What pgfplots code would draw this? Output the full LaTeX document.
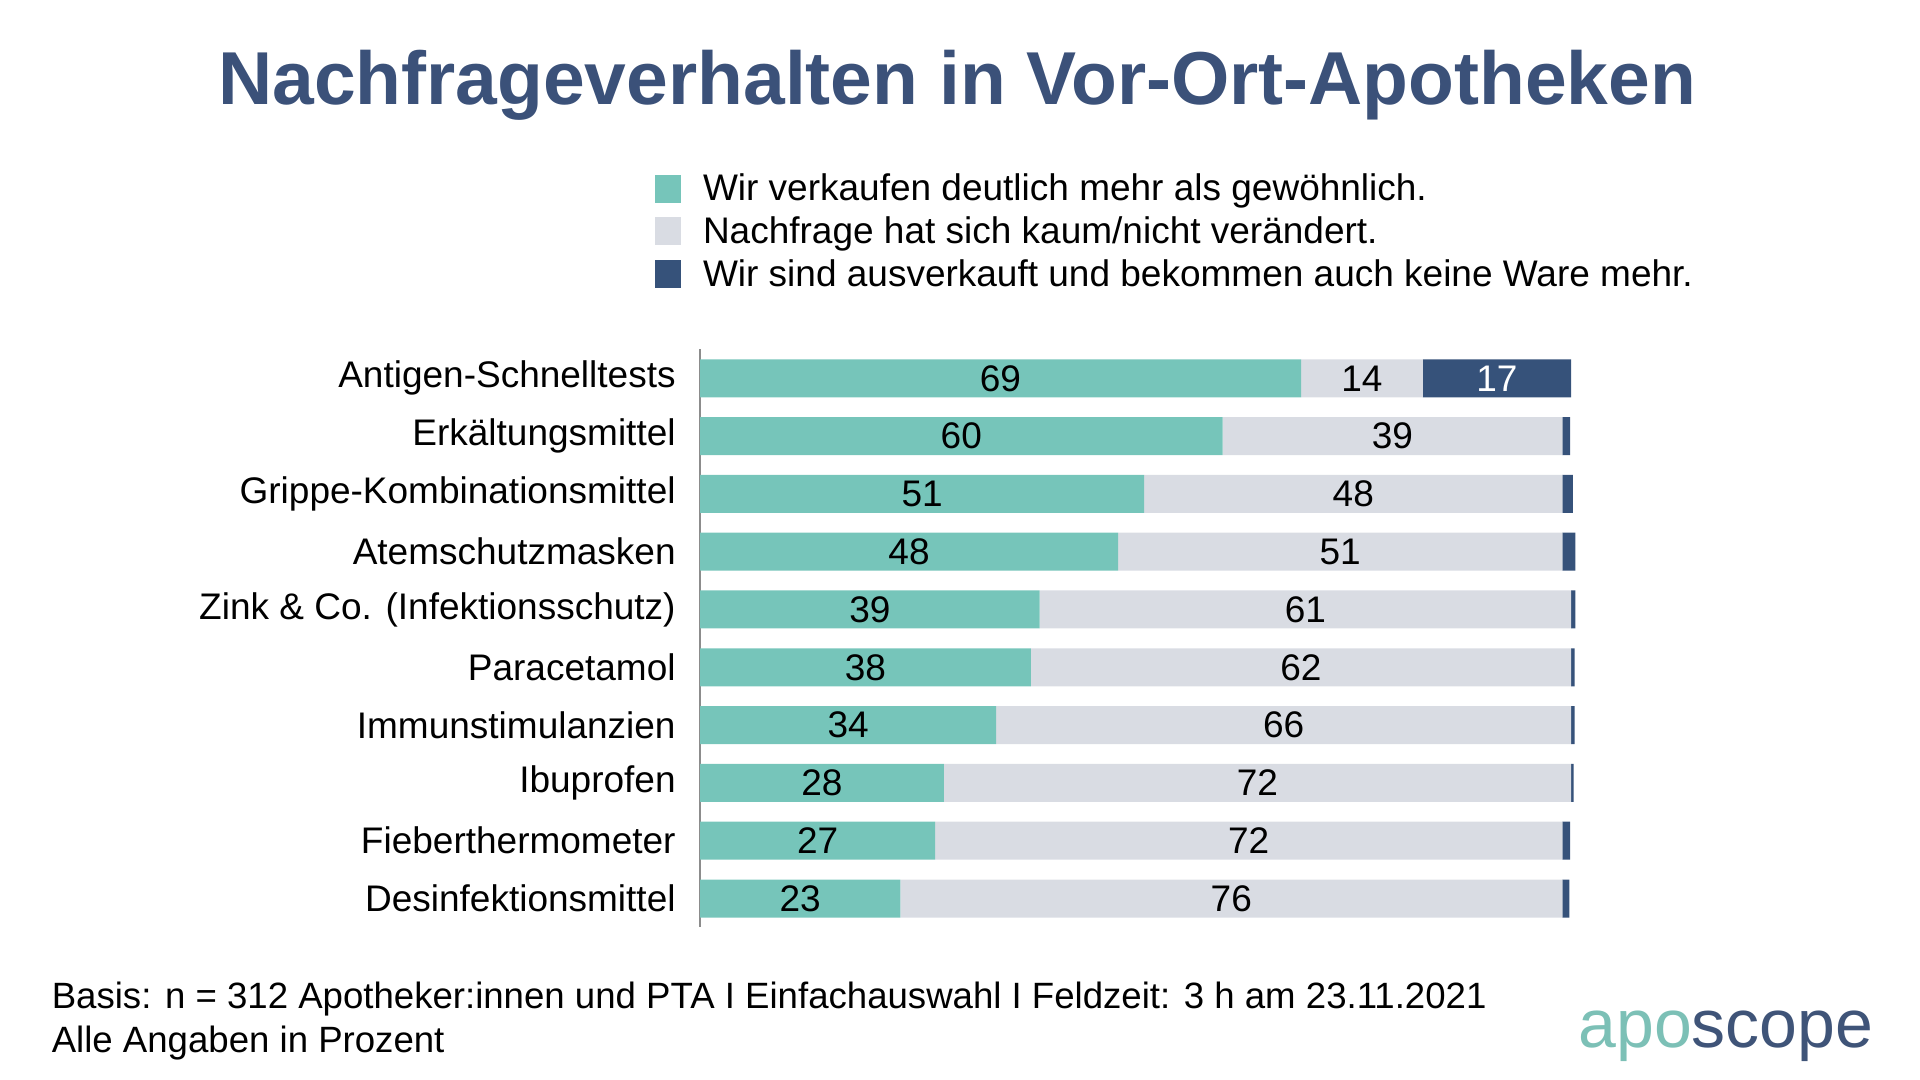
\documentclass[border=0pt]{standalone}
\usepackage{pgfplots}
\pgfplotsset{compat=1.18}
\usepackage{pgfplotstable}
\usepackage{fontspec}
\setmainfont{Liberation Sans}
\definecolor{cTeal}{HTML}{76C5BA}
\definecolor{cGray}{HTML}{D9DCE3}
\definecolor{cDark}{HTML}{36527A}
\definecolor{cTitle}{HTML}{3B5179}
\definecolor{cLogoT}{HTML}{7CC0B6}
\definecolor{cLogoD}{HTML}{3F5478}
\pgfplotstableread{
idx a b c lab
0 69 14 17 17
1 60 39 0.9 {}
2 51 48 1.2 {}
3 48 51 1.5 {}
4 39 61 0.5 {}
5 38 62 0.4 {}
6 34 66 0.4 {}
7 28 72 0.3 {}
8 27 72 0.9 {}
9 23 76 0.8 {}
}\datatable
\begin{document}
\begin{tikzpicture}
\useasboundingbox (0,0) rectangle (960pt,540pt);
\node[font=\fontsize{37.5}{44}\selectfont\bfseries, text=cTitle, anchor=base] at (478.6pt,487.7pt) {Nachfrageverhalten in Vor-Ort-Apotheken};
\begin{axis}[
  at={(350pt,76.3pt)}, anchor=south west,
  scale only axis, width=435.5pt, height=289pt,
  xbar stacked, bar width=19pt, clip=false,
  xmin=0, xmax=100, ymin=-0.5, ymax=9.5, y dir=reverse,
  axis x line=none, axis y line=left,
  y axis line style={-, draw=black!45, line width=0.7pt},
  ytick={0,...,9},
  yticklabels={Antigen-Schnelltests, Erkältungsmittel, Grippe-Kombinationsmittel, Atemschutzmasken, Zink \& Co. (Infektionsschutz), Paracetamol, Immunstimulanzien, Ibuprofen, Fieberthermometer, Desinfektionsmittel},
  major tick length=0pt,
  yticklabel style={font=\fontsize{18.5}{22}\selectfont, inner sep=0pt, anchor=east, xshift=-12pt},
  /pgf/number format/assume math mode=true,
  legend style={at={(-0.059,1.315)}, anchor=north west, draw=none, fill=none,
    font=\fontsize{18.5}{22}\selectfont, row sep=4.5pt,
    nodes={inner xsep=11pt, inner ysep=1pt}},
  legend cell align=left,
  legend image code/.code={\fill[#1, draw=none] (0pt,-7pt) rectangle (13pt,7pt);},
  nodes near coords style={font=\fontsize{18.5}{22}\selectfont, anchor=center},
]
\addplot[fill=cTeal, draw=none,
  point meta=explicit,
  nodes near coords={\pgfmathprintnumber{\pgfplotspointmeta}},
  every node near coord/.append style={text=black}]
  table[x=a, y=idx, meta=a] {\datatable};
\addplot[fill=cGray, draw=none,
  point meta=explicit,
  nodes near coords={\pgfmathprintnumber{\pgfplotspointmeta}},
  every node near coord/.append style={text=black}]
  table[x=b, y=idx, meta=b] {\datatable};
\addplot[fill=cDark, draw=none,
  point meta=explicit symbolic,
  nodes near coords={\pgfplotspointmeta},
  every node near coord/.append style={text=white}]
  table[x=c, y=idx, meta=lab] {\datatable};
\legend{Wir verkaufen deutlich mehr als gewöhnlich., Nachfrage hat sich kaum/nicht verändert., Wir sind ausverkauft und bekommen auch keine Ware mehr.}
\end{axis}
\node[anchor=base west, inner sep=0pt, font=\fontsize{18.3}{22}\selectfont] at (25.7pt,35.5pt) {Basis: n = 312 Apotheker:innen und PTA I Einfachauswahl I Feldzeit: 3 h am 23.11.2021};
\node[anchor=base west, inner sep=0pt, font=\fontsize{18.3}{22}\selectfont] at (25.7pt,13.5pt) {Alle Angaben in Prozent};
\node[anchor=base west, inner sep=0pt, font=\fontsize{34}{40}\selectfont] at (789pt,16pt) {\textcolor{cLogoT}{apo}\textcolor{cLogoD}{scope}};
\end{tikzpicture}
\end{document}
